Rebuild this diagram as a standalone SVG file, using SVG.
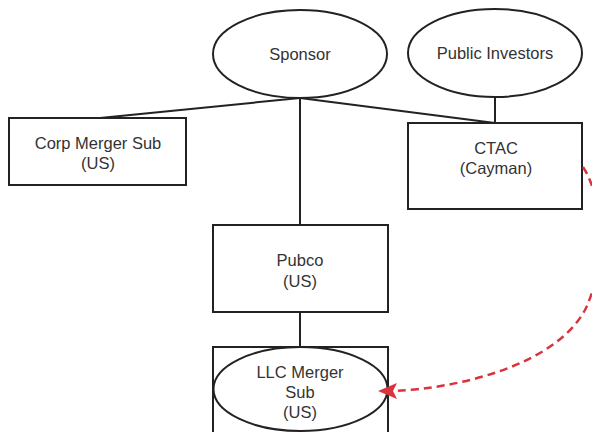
<svg xmlns="http://www.w3.org/2000/svg" width="592" height="432" viewBox="0 0 592 432">
<style>
.shape{fill:#fff;stroke:#222;stroke-width:2}
.lbl{font-family:"Liberation Sans",Arial,sans-serif;font-size:16.5px;fill:#333;text-anchor:middle}
.conn{stroke:#222;stroke-width:2;fill:none}
.dash{stroke:#d9343c;stroke-width:2.5;fill:none;stroke-dasharray:8 5}
.head{fill:#d9343c;stroke:none}
</style>
<rect width="592" height="432" fill="#fff"/>
<g id="connectors">
<line class="conn" x1="300" y1="98" x2="100" y2="118"/>
<line class="conn" x1="300" y1="98" x2="495" y2="123"/>
<line class="conn" x1="495" y1="97" x2="495" y2="123"/>
<line class="conn" x1="300" y1="98" x2="300" y2="225"/>
<line class="conn" x1="300" y1="312" x2="300" y2="347"/>
</g>
<g id="sponsor">
<ellipse class="shape" cx="300" cy="54" rx="87" ry="44"/>
<text class="lbl" x="300" y="60">Sponsor</text>
</g>
<g id="public-investors">
<ellipse class="shape" cx="495" cy="53" rx="87" ry="44"/>
<text class="lbl" x="495" y="59">Public Investors</text>
</g>
<g id="corp-merger-sub">
<rect class="shape" x="9" y="118" width="177" height="67"/>
<text class="lbl" x="98" y="149">Corp Merger Sub</text>
<text class="lbl" x="98" y="169">(US)</text>
</g>
<g id="ctac">
<rect class="shape" x="408" y="123" width="174" height="86"/>
<text class="lbl" x="496" y="154">CTAC</text>
<text class="lbl" x="496" y="174">(Cayman)</text>
</g>
<g id="pubco">
<rect class="shape" x="213" y="225" width="175" height="87"/>
<text class="lbl" x="300" y="266">Pubco</text>
<text class="lbl" x="300" y="287">(US)</text>
</g>
<g id="llc-merger-sub">
<rect class="shape" x="213" y="347" width="175" height="100"/>
<ellipse class="shape" cx="300.5" cy="389" rx="87" ry="42"/>
<text class="lbl" x="300" y="378">LLC Merger</text>
<text class="lbl" x="300" y="398">Sub</text>
<text class="lbl" x="300" y="418">(US)</text>
</g>
<g id="dashed-connector">
<path class="dash" d="M583,167 C605,200 605,270 585,310 C555,365 460,388 394,391"/>
<polygon class="head" points="378,391 397,383 393,391 397,399"/>
</g>
</svg>
